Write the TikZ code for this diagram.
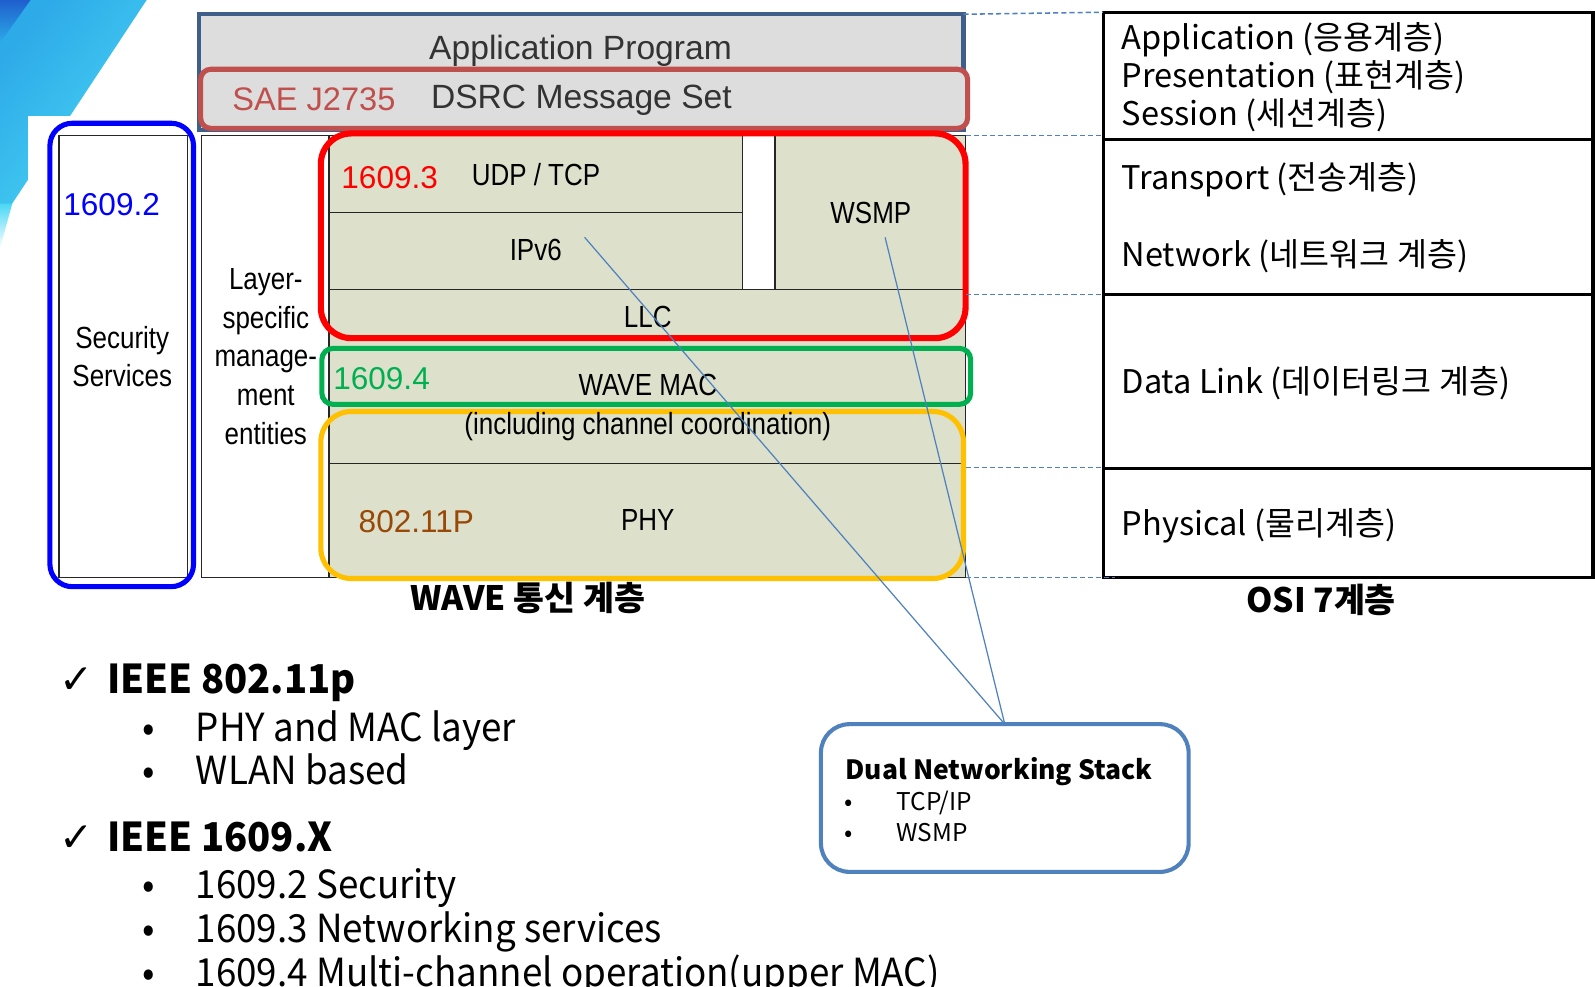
\documentclass[tikz,border=0pt]{standalone}
\usepackage{fontspec}
\setmainfont{Liberation Sans}
\newfontfamily\narrowfont[FakeStretch=0.85]{Liberation Sans}
\newfontfamily\krfont{Noto Sans CJK KR}
\newfontfamily\krlfont[FakeStretch=0.95]{Noto Sans CJK KR}
\newfontfamily\krhfont[FakeStretch=0.96]{Noto Sans CJK KR}
\newfontfamily\symfont{DejaVu Sans}
\newcommand\fsz[2]{\fontsize{#1}{#2}\selectfont}
\definecolor{appblue}{RGB}{63,95,138}
\definecolor{saered}{RGB}{192,80,77}
\definecolor{boxgray}{RGB}{221,221,221}
\definecolor{stackfill}{RGB}{221,224,203}
\definecolor{pured}{RGB}{255,0,0}
\definecolor{grn}{RGB}{0,176,80}
\definecolor{orng}{RGB}{255,192,0}
\definecolor{purblue}{RGB}{0,0,255}
\definecolor{brwn}{RGB}{152,72,7}
\definecolor{lnblue}{RGB}{79,129,189}
\definecolor{swdark}{RGB}{30,95,205}
\definecolor{swmid}{RGB}{45,170,232}
\definecolor{swcyan}{RGB}{75,215,245}
\begin{document}
\begin{tikzpicture}[x=1pt,y=-1pt,
  bx/.style={anchor=north west, inner sep=0pt, outer sep=0pt},
  thin box/.style={bx, draw=black!85, line width=1.2pt},
  lbl/.style={inner sep=0pt, anchor=mid, text=black, yshift=-8pt},
  lblw/.style={inner sep=0pt, anchor=mid west, text=black, yshift=-8pt},
  lblc/.style={inner sep=0pt, anchor=center, text=black, align=center},
  narrowtxt/.style={font=\narrowfont\fsz{30}{38}},
  numtxt/.style={font=\fsz{31}{36}},
  ositxt/.style={lblw, font=\krfont\fsz{32}{38}},
  listtxt/.style={lblw, yshift=-3pt, font=\krlfont\fsz{38}{44}},
  headtxt/.style={lblw, yshift=-3pt, font=\krhfont\bfseries\fsz{39}{46}},
  cktxt/.style={lblw, yshift=-3pt, font=\symfont\fsz{40}{44}},
  dashln/.style={draw=lnblue, line width=1.5pt, dash pattern=on 5pt off 3pt},
  conn/.style={draw=lnblue, line width=1.2pt}]
\useasboundingbox (0,0) rectangle (1566,969);
% background swoosh
\shade[left color=swmid, right color=swcyan, shading angle=50] (0,0) -- (144,0) -- (0,218) -- cycle;
\shade[top color=swdark, bottom color=swmid] (0,0) -- (30,0) -- (0,42) -- cycle;
\shade[top color=swcyan, bottom color=white] (0,200) -- (12,200) -- (0,244) -- cycle;
\fill[white] (27,114) rectangle (1566,969);
% application program
\node[bx, draw=appblue, fill=boxgray, line width=4pt, minimum width=751pt, minimum height=114pt] (app) at (195,14) {};
\node[bx, draw=saered, fill=boxgray, line width=5pt, rounded corners=10pt, minimum width=753pt, minimum height=58pt] (sae) at (197,68) {};
\node[lbl, font=\fsz{33}{38}, text=black!80] (apptxt) at (570,48) {Application Program};
\node[lblw, font=\fsz{32}{38}, text=saered] (saetxt) at (228,98) {SAE J2735};
\node[lblw, font=\fsz{33}{38}, text=black!80] (dsrctxt) at (423,96) {DSRC Message Set};
% security services
\node[thin box, fill=white, minimum width=126pt, minimum height=434pt] (secin) at (58,133) {};
\node[bx, draw=purblue, line width=5pt, rounded corners=22pt, minimum width=141pt, minimum height=455pt] (sec) at (49,121) {};
\node[lblw, font=\fsz{31}{36}, text=purblue] (t16092) at (62,201) {1609.2};
\node[lblc, narrowtxt] (sectxt) at (120,350) {Security\\Services};
% layer-specific management entities
\node[thin box, fill=white, minimum width=127pt, minimum height=434pt] (lme) at (198,133) {};
\node[lblc, narrowtxt] (lmetxt) at (261,350) {Layer-\\specific\\manage-\\ment\\entities};
% WAVE stack
\node[thin box, fill=stackfill, minimum width=625pt, minimum height=434pt] (stack) at (323,133) {};
\node[thin box, minimum width=406pt, minimum height=76pt] (udp) at (323,133) {};
\node[thin box, minimum width=406pt, minimum height=75pt] (ipv6) at (323,209) {};
\node[thin box, fill=white, minimum width=32pt, minimum height=151pt] (gap) at (729,133) {};
\node[thin box, minimum width=187pt, minimum height=151pt] (wsmp) at (761,133) {};
\node[thin box, minimum width=625pt, minimum height=171pt] (mac) at (323,284) {};
\node[thin box, minimum width=625pt, minimum height=112pt] (phy) at (323,455) {};
\node[bx, draw=pured, line width=6pt, rounded corners=30pt, minimum width=633pt, minimum height=201pt] (redbox) at (315,131) {};
\node[bx, draw=grn, line width=5pt, rounded corners=11pt, minimum width=637pt, minimum height=55pt] (grnbox) at (316,342) {};
\node[bx, draw=orng, line width=5pt, rounded corners=30pt, minimum width=631pt, minimum height=164pt] (orbox) at (315,404) {};
\node[lblw, numtxt, text=pured] (t16093) at (335,174) {1609.3};
\node[lblw, narrowtxt] (udptxt) at (463,171) {UDP / TCP};
\node[lbl, narrowtxt] (ipv6txt) at (526,245) {IPv6};
\node[lbl, narrowtxt] (wsmptxt) at (855,209) {WSMP};
\node[lbl, narrowtxt] (llctxt) at (636,311) {LLC};
\node[lblw, numtxt, text=grn] (t16094) at (327,372) {1609.4};
\node[lbl, narrowtxt] (mactxt) at (636,378) {WAVE MAC};
\node[lbl, narrowtxt] (chtxt) at (636,416) {(including channel coordination)};
\node[lblw, numtxt, text=brwn] (t80211) at (352,512) {802.11P};
\node[lbl, narrowtxt] (phytxt) at (636,510) {PHY};
\node[lbl, font=\krfont\bfseries\fsz{33}{38}] (wavettl) at (518,589) {WAVE 통신 계층};
% OSI
\node[bx, draw=black, line width=3pt, minimum width=481pt, minimum height=555pt] (osi) at (1083,12) {};
\draw[black, line width=3pt] (osi.west |- 0,137) -- (osi.east |- 0,137);
\draw[black, line width=3pt] (osi.west |- 0,289) -- (osi.east |- 0,289);
\draw[black, line width=3pt] (osi.west |- 0,460) -- (osi.east |- 0,460);
\node[ositxt] (o1) at (1101,38) {Application (응용계층)};
\node[ositxt] (o2) at (1101,75) {Presentation (표현계층)};
\node[ositxt] (o3) at (1101,113) {Session (세션계층)};
\node[ositxt] (o4) at (1101,175) {Transport (전송계층)};
\node[ositxt] (o5) at (1101,251) {Network (네트워크 계층)};
\node[ositxt] (o6) at (1101,376) {Data Link (데이터링크 계층)};
\node[ositxt] (o7) at (1101,515) {Physical (물리계층)};
\node[lbl, font=\krfont\bfseries\fsz{33}{38}] (osittl) at (1297,591) {OSI 7계층};
% dashed guides
\draw[dashln] (app.north east) -- (osi.north west);
\draw[dashln] (stack.north east) -- (stack.north east -| osi.west);
\draw[dashln] (stack.east |- 0,289) -- (osi.west |- 0,289);
\draw[dashln] (stack.east |- 0,459) -- (osi.west |- 0,459);
\draw[dashln] (stack.south east) -- ([xshift=12pt]osi.south west);
% dual networking stack
\node[bx, draw=lnblue, fill=white, line width=4pt, rounded corners=28pt, minimum width=361pt, minimum height=145pt] (dual) at (806,711) {};
\node[lblw, font=\krfont\bfseries\fsz{26}{30}] (dualttl) at (830,755) {Dual Networking Stack};
\node[lblw, font=\krfont\fsz{24}{28}] (db1) at (829,785) {•};
\node[lblw, font=\krfont\fsz{24}{28}] (dt1) at (880,785) {TCP/IP};
\node[lblw, font=\krfont\fsz{24}{28}] (db2) at (829,816) {•};
\node[lblw, font=\krfont\fsz{24}{28}] (dt2) at (880,816) {WSMP};
\coordinate (ipv6pt) at (574,233);
\coordinate (wsmppt) at (869,233);
\draw[conn] (ipv6pt) -- (dual.north);
\draw[conn] (wsmppt) -- (dual.north);
% bullet list
\node[cktxt] (ck1) at (58,667) {✓};
\node[headtxt] (h1) at (105,667) {IEEE 802.11p};
\node[listtxt] (b11) at (140,714) {•};
\node[listtxt] (l11) at (192,714) {PHY and MAC layer};
\node[listtxt] (b12) at (140,757) {•};
\node[listtxt] (l12) at (192,757) {WLAN based};
\node[cktxt] (ck2) at (58,822) {✓};
\node[headtxt] (h2) at (105,822) {IEEE 1609.X};
\node[listtxt] (b21) at (140,869) {•};
\node[listtxt] (l21) at (192,869) {1609.2 Security};
\node[listtxt] (b22) at (140,912) {•};
\node[listtxt] (l22) at (192,912) {1609.3 Networking services};
\node[listtxt] (b23) at (140,955) {•};
\node[listtxt] (l23) at (192,955) {1609.4 Multi-channel operation(upper MAC)};
\end{tikzpicture}
\end{document}
